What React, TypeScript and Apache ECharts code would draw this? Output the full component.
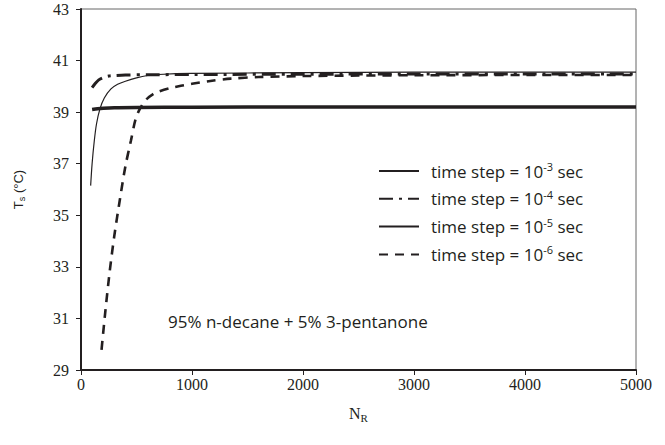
import React, { useEffect, useRef } from "react";
import * as echarts from "echarts";

const xTicks = [0, 1000, 2000, 3000, 4000, 5000];
const yTicks = [29, 31, 33, 35, 37, 39, 41, 43];

const seriesNames = [
  "time step = 10-3 sec",
  "time step = 10-4 sec",
  "time step = 10-5 sec",
  "time step = 10-6 sec",
];
const exponents = ["-3", "-4", "-5", "-6"];

const n3 = [100, 150, 200, 300, 500, 1000, 2000, 3000, 4000, 5000];
const t3 = [39.1, 39.13, 39.15, 39.17, 39.18, 39.19, 39.2, 39.2, 39.2, 39.2];

const n4 = [100, 130, 160, 200, 250, 300, 400, 600, 1000, 2000, 3000, 4000, 5000];
const t4 = [39.95, 40.12, 40.25, 40.34, 40.4, 40.42, 40.44, 40.45, 40.46, 40.47, 40.48, 40.48, 40.48];

const n5 = [87, 100, 120, 140, 170, 210, 270, 330, 400, 500, 600, 700, 1000, 2000, 3000, 4000, 5000];
const t5 = [36.15, 37.0, 37.9, 38.55, 39.12, 39.55, 39.9, 40.08, 40.2, 40.33, 40.42, 40.46, 40.5, 40.53, 40.55, 40.55, 40.55];

const n6 = [185, 220, 260, 300, 350, 400, 450, 490, 530, 590, 650, 700, 800, 900, 1000, 1150, 1350, 1600, 2000, 2500, 3000, 4000, 5000];
const t6 = [29.78, 31.3, 32.87, 34.2, 35.6, 36.9, 37.9, 38.7, 39.13, 39.5, 39.7, 39.8, 39.93, 40.02, 40.1, 40.2, 40.3, 40.36, 40.4, 40.42, 40.43, 40.44, 40.44];

const annotation = "95% n-decane + 5% 3-pentanone";

const pair = (xs: number[], ys: number[]) => xs.map((x, i) => [x, ys[i]]);

const INK = "#231f20";

export default function App() {
  const ref = useRef<HTMLDivElement>(null);
  useEffect(() => {
    if (!ref.current) return;
    const chart = echarts.init(ref.current, null, { renderer: "svg" });
    const styles = [
      { width: 3.5, type: "solid" as any },
      { width: 3, type: [14, 6, 3, 6] as any },
      { width: 1.2, type: "solid" as any },
      { width: 2.6, type: [9, 7] as any },
    ];
    const datasets = [pair(n3, t3), pair(n4, t4), pair(n5, t5), pair(n6, t6)];
    chart.setOption({
      animation: false,
      backgroundColor: "#fff",
      grid: {
        left: 81,
        right: 29,
        top: 9,
        bottom: 75,
        show: true,
        borderColor: "#666",
        borderWidth: 1,
      },
      xAxis: {
        type: "value",
        min: xTicks[0],
        max: xTicks[xTicks.length - 1],
        interval: 1000,
        name: "N{s|R}",
        nameLocation: "middle",
        nameGap: 34,
        nameTextStyle: {
          fontFamily: "Liberation Serif",
          fontSize: 16,
          color: INK,
          rich: { s: { fontSize: 11, verticalAlign: "bottom", fontFamily: "Liberation Serif", color: INK, padding: [8, 0, 0, 0] } },
        },
        axisLine: { show: true, lineStyle: { color: INK, width: 2 } },
        axisTick: { show: true, length: 5, lineStyle: { color: INK, width: 1 } },
        axisLabel: { fontFamily: "Liberation Serif", fontSize: 16, color: INK, margin: 6, formatter: (v: number) => String(v) },
        splitLine: { show: false },
      },
      yAxis: {
        type: "value",
        min: yTicks[0],
        max: yTicks[yTicks.length - 1],
        interval: 2,
        name: "T{s|s} (°C)",
        nameLocation: "middle",
        nameGap: 55,
        nameRotate: 90,
        nameTextStyle: {
          fontFamily: "Liberation Sans",
          fontSize: 13,
          color: INK,
          rich: { s: { fontSize: 9, verticalAlign: "bottom", fontFamily: "Liberation Sans", color: INK, padding: [6, 0, 0, 0] } },
        },
        axisLine: { show: true, lineStyle: { color: INK, width: 2 } },
        axisTick: { show: true, length: 5, lineStyle: { color: INK, width: 1 } },
        axisLabel: { fontFamily: "Liberation Serif", fontSize: 16, color: INK, margin: 12 },
        splitLine: { show: false },
      },
      legend: {
        orient: "vertical",
        left: 373,
        top: 156,
        itemWidth: 40,
        itemHeight: 14,
        itemGap: 9.3,
        data: seriesNames,
        itemStyle: { color: "rgba(0,0,0,0)", borderWidth: 0, opacity: 0 },
        formatter: (name: string) => {
          const i = seriesNames.indexOf(name);
          return `{a|time step = 10}{s|${exponents[i]}}{a| sec}`;
        },
        textStyle: {
          padding: [0, 0, 0, 7],
          rich: {
            a: { fontFamily: "Open Sans", fontSize: 17, color: INK, lineHeight: 20 },
            s: { fontFamily: "Open Sans", fontSize: 11, color: INK, verticalAlign: "top", lineHeight: 20 },
          },
        },
      },
      graphic: [
        {
          type: "text",
          left: 168,
          top: 313,
          style: { text: annotation, fontFamily: "Open Sans", fontSize: 17, fill: INK },
        },
      ],
      series: datasets.map((d, i) => ({
        name: seriesNames[i],
        type: "line",
        data: d,
        symbol: "none",
        smooth: 0.3,
        color: INK,
        lineStyle: { color: INK, width: styles[i].width, type: styles[i].type, cap: "butt" },
        z: 4 - i,
      })),
    });
    return () => chart.dispose();
  }, []);
  return <div ref={ref} style={{ position: "absolute", left: 0, top: 0, width: 665, height: 445 }} />;
}
